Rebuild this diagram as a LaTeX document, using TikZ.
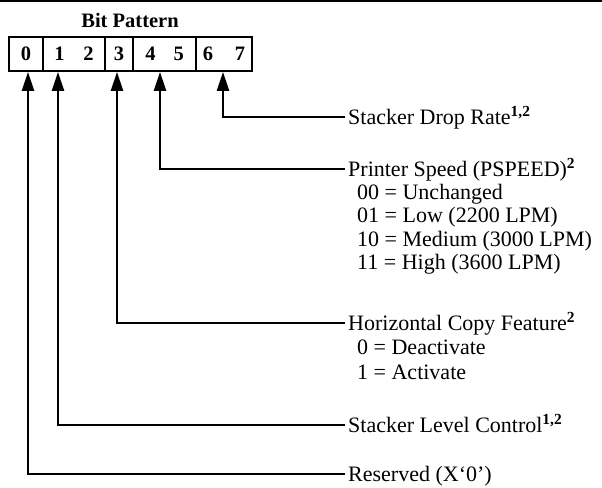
\documentclass[tikz,border=0pt]{standalone}
\usepackage{fontspec}
\setmainfont{Liberation Serif}
\usetikzlibrary{arrows.meta,positioning}
\newcommand{\fnref}[1]{\textsuperscript{\bfseries #1}}

\begin{document}
\begin{tikzpicture}[x=1pt,y=-1pt,>={Triangle[length=19pt,width=12pt]},font=\fontsize{22}{25}\selectfont]
\useasboundingbox (0,0) rectangle (602,487);
\tikzset{field/.style={draw,line width=1.8pt,minimum height=34pt,inner sep=0pt,font=\fontsize{20.5}{24}\selectfont\bfseries},
  lbl/.style={anchor=west,inner sep=3pt,text height=14.6pt,text depth=0pt},
  conn/.style={->,line width=2.5pt}}
% rule at the top of the page
\draw[line width=1.5pt] (0,1)--(602,1);
\node[font=\fontsize{20.5}{24}\selectfont\bfseries] (title) at (130,20) {Bit Pattern};
% the byte, split in its fields
\node[field,minimum width=34pt] (f0) at (26,54) {0};
\node[field,minimum width=62pt] (f12) at (74,54) {1\hspace{19pt}2};
\node[field,minimum width=28pt] (f3) at (119,54) {3};
\node[field,minimum width=63pt] (f45) at (164.5,54) {4\hspace{18pt}5};
\node[field,minimum width=56pt] (f67) at (224,54) {6\hspace{22pt}7};
% what each field means
\node[lbl] (drop) at (345,117) {Stacker Drop Rate\fnref{1,2}};
\node[lbl] (speed) at (345,169) {Printer Speed (PSPEED)\fnref{2}};
\foreach \t [count=\i] in {00 = Unchanged, 01 = Low (2200 LPM), 10 = Medium (3000 LPM), 11 = High (3600 LPM)}
  \node[lbl] (speed\i) at (354,{169+23.3*\i}) {\t};
\node[lbl] (hcopy) at (345,323) {Horizontal Copy Feature\fnref{2}};
\foreach \t [count=\i] in {0 = Deactivate, 1 = Activate}
  \node[lbl] (hcopy\i) at (354,{323+24.5*\i}) {\t};
\node[lbl] (level) at (345,425) {Stacker Level Control\fnref{1,2}};
\node[lbl] (rsv) at (345,474) {Reserved (X`0')};
% connectors up to the fields
\draw[conn] (drop.west) -| ([xshift=-1pt]f67.south);
\draw[conn] (speed.west) -| ([xshift=-4.5pt]f45.south);
\draw[conn] (hcopy.west) -| ([xshift=-2pt]f3.south);
\draw[conn] (level.west) -| ([xshift=-16pt]f12.south);
\draw[conn] (rsv.west) -| ([xshift=2pt]f0.south);
\end{tikzpicture}
\end{document}
